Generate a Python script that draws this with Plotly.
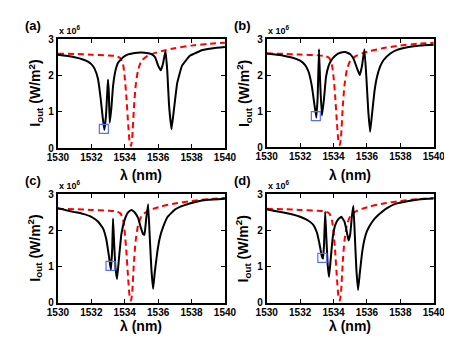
import plotly.graph_objects as go

# wavelength (nm) / output intensity (x 1e6 W/m^2)
red_wl = [1530.0, 1531.0, 1532.0, 1533.0, 1533.5, 1533.75, 1533.9, 1534.0, 1534.1, 1534.2,
          1534.3, 1534.38, 1534.45, 1534.55, 1534.65, 1534.8, 1535.0, 1535.3, 1535.7, 1536.2,
          1537.0, 1538.0, 1539.0, 1540.0]
red_i = [2.60, 2.59, 2.57, 2.55, 2.53, 2.47, 2.30, 1.95, 1.40, 0.70,
         0.15, 0.06, 0.30, 1.10, 1.70, 2.15, 2.40, 2.52, 2.60, 2.67,
         2.75, 2.82, 2.87, 2.90]

a_wl = [1530.0, 1530.5, 1531.0, 1531.5, 1531.8, 1532.0, 1532.2, 1532.4, 1532.55, 1532.68,
        1532.78, 1532.88, 1532.96, 1533.0, 1533.05, 1533.1, 1533.2, 1533.3, 1533.45, 1533.6,
        1533.9, 1534.2, 1534.6, 1535.0, 1535.4, 1535.63, 1535.82, 1536.0, 1536.16, 1536.29,
        1536.44, 1536.55, 1536.65, 1536.8, 1536.95, 1537.14, 1537.43, 1537.9, 1538.66, 1539.3,
        1540.0]
a_i = [2.57, 2.54, 2.50, 2.44, 2.38, 2.31, 2.18, 1.90, 1.40, 0.85,
       0.50, 0.90, 1.60, 1.89, 1.50, 0.70, 1.10, 1.70, 2.14, 2.35,
       2.50, 2.58, 2.62, 2.63, 2.61, 2.58, 2.50, 2.27, 2.14, 2.32,
       2.68, 2.10, 1.20, 0.52, 1.08, 1.79, 2.27, 2.54, 2.70, 2.75,
       2.78]

b_wl = [1530.0, 1530.5, 1531.0, 1531.5, 1532.0, 1532.3, 1532.5, 1532.7, 1532.85, 1532.97,
        1533.05, 1533.13, 1533.2, 1533.3, 1533.42, 1533.55, 1533.7, 1533.85, 1534.1, 1534.4,
        1534.7, 1535.0, 1535.2, 1535.4, 1535.57, 1535.7, 1535.85, 1535.97, 1536.08, 1536.19,
        1536.3, 1536.45, 1536.6, 1536.8, 1537.0, 1537.4, 1537.8, 1538.5, 1539.2, 1540.0]
b_i = [2.60, 2.57, 2.54, 2.49, 2.40, 2.28, 2.10, 1.70, 1.20, 0.82,
       1.40, 2.72, 1.80, 0.88, 1.30, 1.95, 2.25, 2.40, 2.54, 2.62,
       2.64, 2.58, 2.45, 2.20, 2.00, 2.25, 2.72, 1.90, 1.00, 0.43,
       0.90, 1.55, 1.95, 2.25, 2.42, 2.60, 2.70, 2.78, 2.82, 2.84]

c_wl = [1530.0, 1530.5, 1531.0, 1531.5, 1532.0, 1532.4, 1532.7, 1532.9, 1533.05, 1533.17,
        1533.25, 1533.3, 1533.37, 1533.45, 1533.54, 1533.65, 1533.8, 1534.0, 1534.2, 1534.4,
        1534.6, 1534.8, 1534.95, 1535.1, 1535.18, 1535.28, 1535.4, 1535.5, 1535.6, 1535.7,
        1535.8, 1535.95, 1536.1, 1536.3, 1536.57, 1537.0, 1537.5, 1538.3, 1539.0, 1540.0]
c_i = [2.62, 2.56, 2.51, 2.46, 2.38, 2.25, 2.06, 1.75, 1.30, 0.90,
       1.50, 2.33, 1.60, 0.95, 0.65, 1.20, 1.90, 2.30, 2.50, 2.57,
       2.50, 2.35, 2.10, 1.90, 1.88, 2.30, 2.73, 1.80, 0.90, 0.38,
       0.85, 1.40, 1.80, 2.10, 2.38, 2.58, 2.69, 2.80, 2.85, 2.88]

d_wl = [1530.0, 1530.5, 1531.0, 1531.5, 1532.0, 1532.5, 1532.8, 1533.0, 1533.15, 1533.3,
        1533.37, 1533.43, 1533.5, 1533.57, 1533.65, 1533.73, 1533.82, 1533.95, 1534.1, 1534.3,
        1534.47, 1534.65, 1534.8, 1534.9, 1535.0, 1535.1, 1535.19, 1535.28, 1535.37, 1535.47,
        1535.57, 1535.7, 1535.85, 1536.0, 1536.2, 1536.5, 1536.8, 1537.2, 1537.7, 1538.5,
        1539.2, 1540.0]
d_i = [2.59, 2.54, 2.50, 2.45, 2.38, 2.27, 2.15, 1.95, 1.65, 1.28,
       1.22, 1.60, 2.52, 1.80, 1.05, 0.71, 1.15, 1.80, 2.15, 2.32,
       2.38, 2.25, 1.95, 1.72, 1.90, 2.40, 2.69, 1.80, 0.90, 0.35,
       0.80, 1.35, 1.75, 1.98, 2.16, 2.35, 2.48, 2.62, 2.74, 2.82,
       2.87, 2.89]

# blue square markers (wavelength, intensity)
mark_wl = [1532.75, 1532.94, 1533.15, 1533.33]
mark_i = [0.53, 0.86, 1.02, 1.24]

panels = ["(a)", "(b)", "(c)", "(d)"]
black = [(a_wl, a_i), (b_wl, b_i), (c_wl, c_i), (d_wl, d_i)]

W, H = 452, 343
# axes boxes in pixels: (left, right, top, bottom)
boxes = [(41, 217, 26, 139), (261, 437, 26, 138), (41, 217, 187, 299), (261, 437, 187, 299)]
title_top = [156, 156, 313, 313]

x_ticks = [1530, 1532, 1534, 1536, 1538, 1540]
y_ticks = [0, 1, 2, 3]

fig = go.Figure()
layout = dict(width=W, height=H, margin=dict(l=0, r=0, t=0, b=0),
              paper_bgcolor="white", plot_bgcolor="white", showlegend=False,
              font=dict(family="Liberation Sans, Arial", color="black"))
annotations = []

for k in range(4):
    n = "" if k == 0 else str(k + 1)
    xa, ya = "x" + n, "y" + n
    wl, inten = black[k]
    fig.add_trace(go.Scatter(x=red_wl, y=red_i, xaxis=xa, yaxis=ya, mode="lines",
                             line=dict(color="#ff0000", width=2, dash="6px,4px", shape="spline",
                                       smoothing=0.5)))
    fig.add_trace(go.Scatter(x=wl, y=inten, xaxis=xa, yaxis=ya, mode="lines",
                             line=dict(color="black", width=2, shape="spline", smoothing=0.3)))
    fig.add_trace(go.Scatter(x=[mark_wl[k]], y=[mark_i[k]], xaxis=xa, yaxis=ya, mode="markers",
                             marker=dict(symbol="square-open", size=9, color="#5a6cff",
                                         line=dict(width=1.2, color="#5a6cff"))))

    l, r, t, b = boxes[k]
    axis_common = dict(showline=True, linecolor="black", linewidth=2, mirror="ticks",
                       ticks="inside", ticklen=4, tickcolor="black", showgrid=False,
                       zeroline=False)
    layout["xaxis" + n] = dict(domain=[l / W, r / W], anchor=ya, range=[1530, 1540],
                               tickvals=x_ticks, ticktext=["<b>%d</b>" % v for v in x_ticks],
                               tickfont=dict(size=10), ticklabelstandoff=-1, **axis_common)
    layout["yaxis" + n] = dict(domain=[1 - b / H, 1 - t / H], anchor=xa, range=[0, 3],
                               tickvals=y_ticks, ticktext=["<b>%d</b>" % v for v in y_ticks],
                               tickfont=dict(size=10), **axis_common)

    cx = (l + r) / 2
    cy = (t + b) / 2
    annotations.append(dict(text="<b>%s</b>" % panels[k], x=(l - 26) / W, y=1 - (t - 14) / H,
                            xref="paper", yref="paper", showarrow=False, xanchor="center",
                            yanchor="middle", font=dict(size=13)))
    annotations.append(dict(text="<b>x 10<sup>6</sup></b>", x=(l - 1) / W, y=1 - (t - 1) / H,
                            xref="paper", yref="paper", showarrow=False, xanchor="left",
                            yanchor="bottom", font=dict(size=9)))
    annotations.append(dict(text="<b>I<sub>out</sub> (W/m<sup>2</sup>)</b>", x=(l - 24) / W,
                            y=1 - cy / H, xref="paper", yref="paper", showarrow=False,
                            xanchor="center", yanchor="middle", textangle=-90,
                            font=dict(size=14)))
    annotations.append(dict(text="<b>λ (nm)</b>", x=cx / W, y=1 - title_top[k] / H,
                            xref="paper", yref="paper", showarrow=False, xanchor="center",
                            yanchor="top", font=dict(size=14)))

layout["annotations"] = annotations
fig.update_layout(**layout)
fig.write_html("out.html")
